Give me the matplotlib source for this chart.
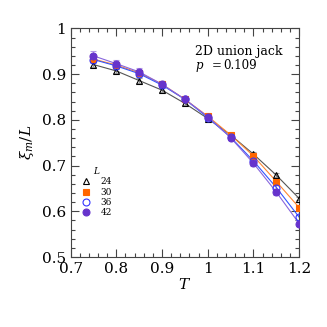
import numpy as np
import matplotlib
matplotlib.use("Agg")
import matplotlib.pyplot as plt
from matplotlib.ticker import MultipleLocator

T = [0.75, 0.80, 0.85, 0.90, 0.95, 1.00, 1.05, 1.10, 1.15, 1.20]
xi24 = [0.921, 0.907, 0.886, 0.865, 0.836, 0.803, 0.767, 0.725, 0.679, 0.628]
xi30 = [0.933, 0.920, 0.903, 0.878, 0.845, 0.808, 0.767, 0.721, 0.665, 0.608]
xi36 = [0.932, 0.918, 0.901, 0.876, 0.845, 0.805, 0.762, 0.710, 0.652, 0.587]
xi42 = [0.940, 0.923, 0.905, 0.878, 0.845, 0.807, 0.761, 0.705, 0.642, 0.573]
err24 = [0.006, 0.005, 0.005, 0.005, 0.004, 0.004, 0.004, 0.004, 0.004, 0.004]
err30 = [0.007, 0.006, 0.006, 0.005, 0.005, 0.005, 0.005, 0.005, 0.005, 0.005]
err36 = [0.008, 0.007, 0.007, 0.006, 0.005, 0.005, 0.005, 0.005, 0.005, 0.005]
err42 = [0.010, 0.009, 0.008, 0.007, 0.006, 0.006, 0.006, 0.006, 0.006, 0.006]
sizes = ["24", "30", "36", "42"]

plt.rcParams['font.family'] = ['DejaVu Serif']
plt.rcParams['mathtext.fontset'] = 'dejavuserif'

fig = plt.figure(figsize=(3.27, 3.27), dpi=100)
ax = fig.add_axes([0.216, 0.214, 0.699, 0.699])

series = [
    (xi24, err24, 'k', '^', 'none', '#555555', '#999999', 4),
    (xi30, err30, '#ff6600', 's', '#ff6600', '#ff8833', '#ffaa77', 4),
    (xi36, err36, '#3333ff', 'o', 'none', '#3355ff', '#8899ff', 5),
    (xi42, err42, '#6633cc', 'o', '#6633cc', '#8866dd', '#b399e6', 5),
]
handles = []
for (y, e, c, m, fc, lc, ec, ms) in series:
    ax.errorbar(T, y, yerr=e, fmt='none', ecolor=ec, elinewidth=0.8, capsize=2, capthick=0.8, zorder=2)
    ax.plot(T, y, '-', color=lc, lw=0.8, zorder=3)
    h, = ax.plot(T, y, linestyle='none', marker=m, markersize=ms, markerfacecolor=fc,
                 markeredgecolor=c, markeredgewidth=0.8, zorder=4)
    handles.append(h)

ax.set_xlim(0.7, 1.2)
ax.set_ylim(0.5, 1.0)
ax.xaxis.set_major_locator(MultipleLocator(0.1))
ax.xaxis.set_minor_locator(MultipleLocator(0.02))
ax.yaxis.set_major_locator(MultipleLocator(0.1))
ax.yaxis.set_minor_locator(MultipleLocator(0.02))
ax.set_xticks([0.7, 0.8, 0.9, 1.0, 1.1, 1.2])
ax.set_xticklabels(['0.7', '0.8', '0.9', '1', '1.1', '1.2'])
ax.set_yticks([0.5, 0.6, 0.7, 0.8, 0.9, 1.0])
ax.set_yticklabels(['0.5', '0.6', '0.7', '0.8', '0.9', '1'])
ax.tick_params(which='both', direction='in', top=True, right=True, color='#444444', labelsize=11, width=0.8)
ax.tick_params(which='major', length=6)
ax.tick_params(which='minor', length=3)
for s in ax.spines.values():
    s.set_color('#444444')
    s.set_linewidth(0.8)

ax.set_xlabel(r'$T$', fontsize=11, labelpad=1)
ax.set_ylabel(r'$\xi_m/L$', fontsize=11, labelpad=4)

ax.text(0.972, 0.942, '2D union jack', fontsize=9)
ax.text(0.972, 0.911, r'$p$', fontsize=8.5)
ax.text(1.008, 0.911, '=', fontsize=8.5)
ax.text(1.034, 0.911, '0.109', fontsize=8.5)

leg = ax.legend(handles, sizes, loc='upper left', bbox_to_anchor=(0.02, 0.43), title=r'$L$',
                fontsize=6.5, title_fontsize=6.5, frameon=False, handlelength=1.0,
                handletextpad=1.1, labelspacing=0.15, borderaxespad=0.3)

fig.savefig('out.png', dpi=100)
